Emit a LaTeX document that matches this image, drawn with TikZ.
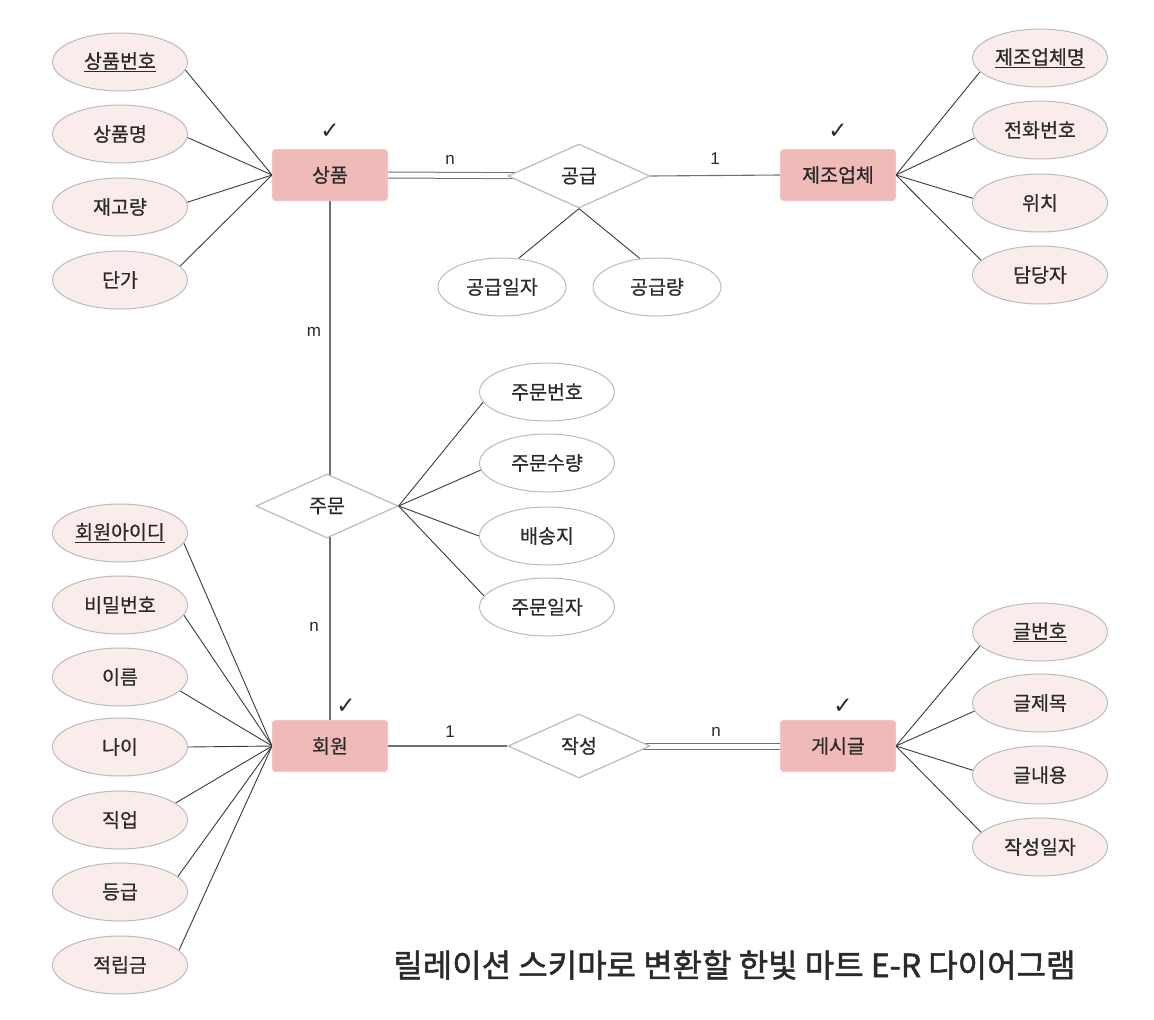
\documentclass[tikz,border=0pt]{standalone}
\usepackage{fontspec}
\setmainfont{Liberation Sans}
\newfontfamily\kr[FakeBold=0.6]{Noto Sans CJK KR}
\newfontfamily\krt[FakeBold=1.6]{Noto Sans CJK KR}
\newfontfamily\sym{DejaVu Sans}
\usetikzlibrary{shapes.geometric,backgrounds}
\definecolor{entfill}{HTML}{EFBAB8}
\definecolor{attfill}{HTML}{FBECEC}
\definecolor{bord}{HTML}{BBBBBB}
\definecolor{lin}{HTML}{3A3A3A}
\definecolor{rlin}{HTML}{707070}
\definecolor{txt}{HTML}{2A2A2A}
\begin{document}
\begin{tikzpicture}[x=1pt,y=-1pt,
  ent/.style={rectangle, rounded corners=3pt, fill=entfill, draw=entfill!85!white, line width=0.8pt,
    minimum width=115pt, minimum height=51pt, inner sep=0pt, text=txt, font=\kr\fontsize{19.5}{22}\selectfont},
  rel/.style={diamond, draw=bord, fill=white, line width=1.2pt, minimum width=142pt, minimum height=64pt,
    inner sep=0pt, text=txt, font=\kr\fontsize{19.5}{22}\selectfont},
  att/.style={ellipse, draw=bord, fill=attfill, line width=1pt, minimum width=135pt, minimum height=58pt,
    inner sep=0pt, text=txt, font=\kr\fontsize{19.5}{22}\selectfont},
  watt/.style={att, fill=white},
  conn/.style={draw=lin, line width=0.9pt},
  rconn/.style={draw=rlin, line width=1.1pt},
  dconn/.style={draw=rlin, line width=1pt, double=white, double distance=5pt},
  card/.style={text=txt, font=\fontsize{17}{18}\selectfont},
  chk/.style={text=txt, font=\sym\fontsize{23}{24}\selectfont}
]
\useasboundingbox (0,0) rectangle (1154,1020);

% entities
\node[ent] (p) at (330,175) {상품};
\node[ent] (m) at (838,175) {제조업체};
\node[ent] (u) at (330,746) {회원};
\node[ent] (b) at (838,746) {게시글};

% relationships
\node[rel] (s) at (579,176) {공급};
\node[rel] (o) at (327,506) {주문};
\node[rel] (w) at (579,746) {작성};

% product attributes
\node[att] (p1) at (120,62) {\underline{상품번호}};
\node[att] (p2) at (120,134) {상품명};
\node[att] (p3) at (120,207) {재고량};
\node[att] (p4) at (120,280) {단가};

% manufacturer attributes
\node[att] (m1) at (1040,58) {\underline{제조업체명}};
\node[att] (m2) at (1040,130) {전화번호};
\node[att] (m3) at (1040,203) {위치};
\node[att] (m4) at (1040,275) {담당자};

% supply attributes
\node[watt, minimum width=128pt] (s1) at (502,287) {공급일자};
\node[watt, minimum width=128pt] (s2) at (657,287) {공급량};

% order attributes
\node[watt] (o1) at (547,392) {주문번호};
\node[watt] (o2) at (547,463) {주문수량};
\node[watt] (o3) at (547,536) {배송지};
\node[watt] (o4) at (547,607) {주문일자};

% member attributes
\node[att] (u1) at (120,533) {\underline{회원아이디}};
\node[att] (u2) at (120,605) {비밀번호};
\node[att] (u3) at (120,677) {이름};
\node[att] (u4) at (120,747) {나이};
\node[att] (u5) at (120,820) {직업};
\node[att] (u6) at (120,892) {등급};
\node[att] (u7) at (120,965) {적립금};

% board attributes
\node[att] (b1) at (1040,632) {\underline{글번호}};
\node[att] (b2) at (1040,703) {글제목};
\node[att] (b3) at (1040,775) {글내용};
\node[att] (b4) at (1040,847) {작성일자};

\begin{scope}[on background layer]
  \foreach \a/\ang in {p1/-7,p2/-3,p3/4,p4/13} \draw[conn] (\a.\ang) -- (p.west);
  \foreach \a/\ang in {m1/193,m2/187,m3/176,m4/166} \draw[conn] (\a.\ang) -- (m.east);
  \foreach \a/\ang in {s1/60,s2/121} \draw[conn] (\a.\ang) -- (s.south);
  \foreach \a/\ang in {o1/189,o2/186,o3/180,o4/170} \draw[conn] (\a.\ang) -- (o.east);
  \foreach \a/\ang in {u1/-9,u2/-9,u3/-13,u4/0,u5/17,u6/15,u7/14} \draw[conn] (\a.\ang) -- (u.west);
  \foreach \a/\ang in {b1/193,b2/187,b3/176,b4/166} \draw[conn] (\a.\ang) -- (b.east);
  \draw[dconn] (p.east) -- (s.center);
  \draw[rconn] (s.east) -- (m.west);
  \draw[rconn] (p.south) -- (p.south |- o.center);
  \draw[rconn] (u.north) -- (u.north |- o.center);
  \draw[rconn] (u.east) -- (w.west);
  \draw[dconn] (w.center) -- (b.west);
\end{scope}

% cardinalities
\node[card] (c1) at (450,160) {n};
\node[card] (c2) at (715,159) {1};
\node[card] (c3) at (314,332) {m};
\node[card] (c4) at (314,627) {n};
\node[card] (c5) at (450,732) {1};
\node[card] (c6) at (716,732) {n};

% check marks
\node[chk] (k1) at (330,131) {✓};
\node[chk] (k2) at (838,131) {✓};
\node[chk] (k3) at (346,706) {✓};
\node[chk] (k4) at (843,706) {✓};

% title
\node[text=txt, font=\krt\fontsize{32}{34}\selectfont, anchor=east] (t) at (1079,965) {릴레이션 스키마로 변환할 한빛 마트 E-R 다이어그램};
\end{tikzpicture}
\end{document}
